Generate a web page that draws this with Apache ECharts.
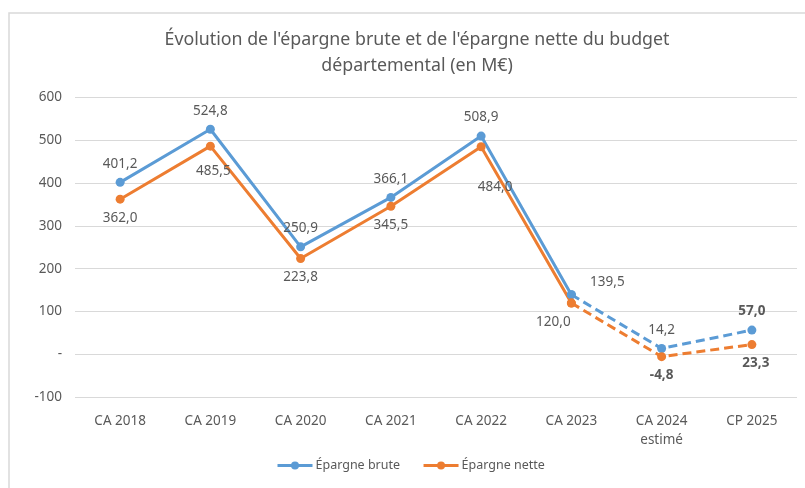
<!DOCTYPE html>
<html>
<head>
<meta charset="utf-8">
<script src="https://cdn.jsdelivr.net/npm/echarts@6/dist/echarts.min.js"></script>
<style>
  html, body { margin: 0; padding: 0; background: #fff; }
  #chart { width: 805px; height: 488px; }
</style>
</head>
<body>
<div id="chart"></div>
<script>
// données
const categories = ['CA 2018', 'CA 2019', 'CA 2020', 'CA 2021', 'CA 2022', 'CA 2023', 'CA 2024\nestimé', 'CP 2025'];
const epargneBrute = [401.2, 524.8, 250.9, 366.1, 508.9, 139.5, 14.2, 57.0];
const epargneNette = [362.0, 485.5, 223.8, 345.5, 484.0, 120.0, -4.8, 23.3];
const yTicks = [-100, 0, 100, 200, 300, 400, 500, 600];
const lastActual = 5; // CA 2023, ensuite pointillés

const BLUE = '#5B9BD5';
const ORANGE = '#ED7D31';
const TXT = '#595959';
const FONT = 'Noto Sans';

const fmt = v => v.toFixed(1).replace('.', ',');

// placement des étiquettes
const brutePos = {5: {position: 'top', offset: [36, 6]}, 7: {fontWeight: 'bold'}};
const nettePos = {
  1: {offset: [3, 7]},
  4: {offset: [14, 22]},
  5: {offset: [-18, 1]},
  6: {fontWeight: 'bold'},
  7: {fontWeight: 'bold', offset: [4, 0]}
};

function buildData(values, from, to, pos, defPos) {
  return values.map((v, i) => {
    if (i < from || i > to) return null;
    const extra = pos[i] || {};
    return {
      value: v,
      label: Object.assign({show: true, position: defPos, distance: 7}, extra)
    };
  });
}

function makeSeries(name, color, values, pos, defPos) {
  const base = {
    name: name,
    type: 'line',
    symbol: 'circle',
    symbolSize: 9,
    color: color,
    lineStyle: {width: 3, color: color},
    itemStyle: {color: color},
    label: {color: TXT, fontSize: 13.5, fontFamily: FONT, formatter: p => fmt(p.value)},
    animation: false
  };
  const solid = Object.assign({}, base, {
    data: buildData(values, 0, lastActual, pos, defPos)
  });
  const dashed = Object.assign({}, base, {
    lineStyle: {width: 3, color: color, type: [9, 5]},
    data: buildData(values, lastActual + 1, values.length - 1, pos, defPos).map((d, i) =>
      i === lastActual ? {value: values[i], label: {show: false}} : d)
  });
  return [solid, dashed];
}

const chart = echarts.init(document.getElementById('chart'));

const option = {
  backgroundColor: '#fff',
  graphic: [{
    type: 'rect',
    shape: {x: 9, y: 13, width: 820, height: 500},
    style: {fill: 'none', stroke: '#D9D9D9', lineWidth: 1.5},
    silent: true
  }],
  title: {
    text: "Évolution de l'épargne brute et de l'épargne nette du budget\ndépartemental (en M€)",
    left: 412,
    textAlign: 'center',
    top: 22,
    textStyle: {color: TXT, fontSize: 17.8, fontWeight: 'normal', fontFamily: FONT, lineHeight: 26}
  },
  legend: {
    bottom: 11,
    left: 271,
    itemWidth: 35,
    itemHeight: 10,
    itemGap: 22,
    lineStyle: {width: 3},
    textStyle: {color: TXT, fontSize: 12.5, fontFamily: FONT, padding: [0, 0, 0, -2]},
    data: ['Épargne brute', 'Épargne nette']
  },
  grid: {left: 75, right: 8, top: 97, bottom: 90.5},
  xAxis: {
    type: 'category',
    data: categories,
    boundaryGap: true,
    axisLine: {show: false},
    axisTick: {show: false},
    axisLabel: {color: TXT, fontSize: 13.5, fontFamily: FONT, margin: 14, lineHeight: 19, interval: 0}
  },
  yAxis: {
    type: 'value',
    min: yTicks[0],
    max: yTicks[yTicks.length - 1],
    interval: 100,
    axisLabel: {color: TXT, fontSize: 13.5, fontFamily: FONT, margin: 13,
      formatter: v => v === 0 ? '-' : String(v)},
    splitLine: {lineStyle: {color: '#D9D9D9', width: 1}}
  },
  series: [
    ...makeSeries('Épargne brute', BLUE, epargneBrute, brutePos, 'top'),
    ...makeSeries('Épargne nette', ORANGE, epargneNette, nettePos, 'bottom')
  ]
};

chart.setOption(option);
</script>
</body>
</html>
